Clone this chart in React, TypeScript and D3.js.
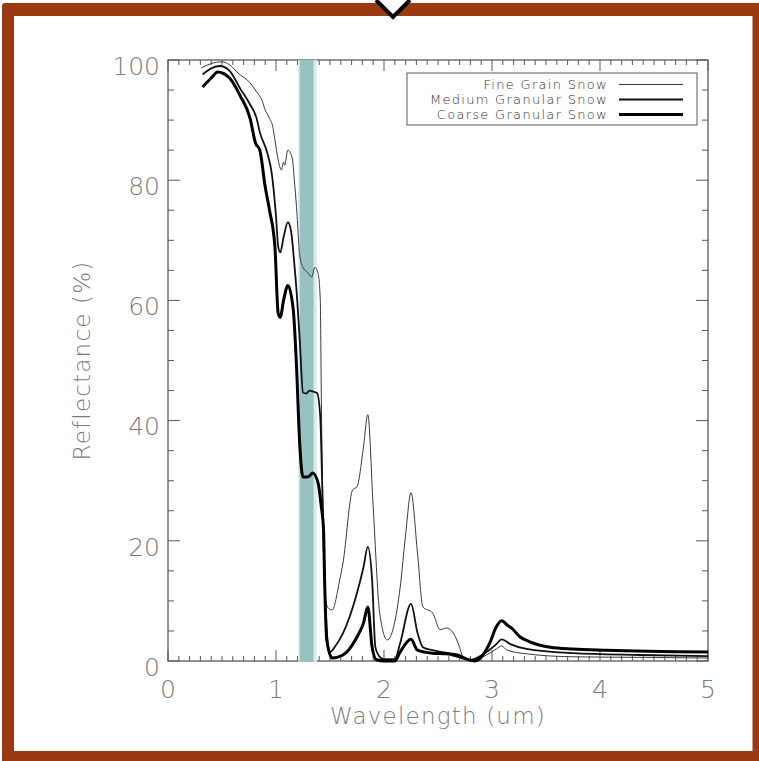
import * as d3 from "d3";

// Snow reflectance spectra (wavelength in um, reflectance in %)
const fineWl = [0.31, 0.4, 0.5, 0.57, 0.65, 0.76, 0.82, 0.87, 0.9, 0.94, 0.97, 0.99, 1.02, 1.05, 1.07, 1.08, 1.11, 1.15, 1.17, 1.19, 1.22, 1.25, 1.29, 1.33, 1.36, 1.39, 1.41, 1.42, 1.44, 1.46, 1.49, 1.52, 1.59, 1.62, 1.71, 1.75, 1.81, 1.85, 1.9, 1.96, 2.03, 2.15, 2.2, 2.25, 2.31, 2.36, 2.45, 2.52, 2.58, 2.64, 2.7, 2.73, 2.8, 2.95, 3.04, 3.09, 3.14, 3.32, 3.75, 4.4, 5.0];
const fineRefl = [98.7, 99.4, 99.7, 99.2, 97.8, 96.2, 94.7, 93.3, 91.7, 90.3, 88.9, 86.7, 83.4, 81.7, 83.0, 82.5, 85.0, 83.7, 80.0, 75.5, 67.5, 65.5, 64.7, 63.9, 65.5, 64.5, 60.0, 43.4, 21.3, 10.0, 8.7, 8.5, 13.5, 16.3, 28.5, 29.0, 35.6, 41.0, 25.6, 8.0, 3.5, 12.3, 21.0, 28.0, 18.0, 9.0, 8.0, 5.2, 5.5, 4.7, 2.3, 0.7, 0.1, 1.0, 2.0, 2.5, 1.8, 1.2, 0.7, 0.6, 0.5];

const mediumWl = [0.32, 0.4, 0.48, 0.57, 0.67, 0.76, 0.82, 0.85, 0.92, 0.96, 1.0, 1.02, 1.04, 1.07, 1.11, 1.14, 1.17, 1.19, 1.22, 1.25, 1.28, 1.31, 1.35, 1.38, 1.41, 1.42, 1.44, 1.47, 1.5, 1.55, 1.62, 1.75, 1.81, 1.85, 1.89, 1.92, 1.96, 2.0, 2.1, 2.15, 2.25, 2.31, 2.36, 2.45, 2.6, 2.7, 2.8, 2.95, 3.04, 3.09, 3.17, 3.32, 3.75, 4.37, 5.0];
const mediumRefl = [97.6, 98.6, 99.0, 98.2, 95.2, 92.6, 90.3, 88.0, 84.5, 81.2, 74.0, 69.0, 68.0, 70.5, 73.0, 71.5, 66.0, 61.7, 53.4, 44.7, 44.5, 45.0, 44.8, 44.6, 40.6, 35.0, 20.0, 5.0, 1.5, 2.5, 4.6, 11.3, 15.6, 19.0, 13.5, 2.3, 0.7, 0.3, 0.3, 3.0, 9.5, 4.7, 2.3, 1.8, 1.3, 1.0, 0.2, 1.5, 2.8, 3.6, 2.8, 2.0, 1.3, 1.0, 0.8];

const coarseWl = [0.32, 0.4, 0.46, 0.57, 0.67, 0.76, 0.81, 0.85, 0.9, 0.94, 0.99, 1.02, 1.04, 1.07, 1.11, 1.16, 1.19, 1.22, 1.25, 1.28, 1.31, 1.34, 1.39, 1.42, 1.44, 1.45, 1.47, 1.52, 1.62, 1.75, 1.81, 1.85, 1.89, 1.93, 2.0, 2.1, 2.15, 2.25, 2.31, 2.45, 2.58, 2.7, 2.84, 2.98, 3.04, 3.09, 3.14, 3.18, 3.26, 3.35, 3.54, 3.75, 4.06, 5.0];
const coarseRefl = [95.5, 97.0, 98.0, 97.0, 94.0, 90.3, 86.2, 85.0, 78.9, 75.0, 68.9, 57.9, 57.2, 60.0, 62.5, 58.4, 49.0, 36.0, 30.6, 30.6, 30.8, 31.3, 29.6, 25.6, 22.0, 13.5, 3.5, 0.5, 1.0, 4.0, 6.3, 9.0, 2.3, 0.2, 0.0, 0.0, 1.5, 3.6, 1.8, 1.3, 1.2, 0.7, 0.0, 3.0, 5.7, 6.7, 6.0, 5.5, 4.0, 3.2, 2.3, 2.0, 1.8, 1.5];

const seriesNames = ["Fine Grain Snow", "Medium Granular Snow", "Coarse Granular Snow"];
const xTickValues = [0, 1, 2, 3, 4, 5];
const yTickValues = [0, 20, 40, 60, 80, 100];
const band = [1.22, 1.35];

const W = 759;
const H = 761;
const brown = "#9b3a11";
const axisColor = "#5a5a5a";
const labelColor = "#7c7c7c";
const font = "'DejaVu Sans', sans-serif";

export default function App() {
  const x = d3.scaleLinear().domain([0, 5]).range([168, 708]);
  const y = d3.scaleLinear().domain([0, 100]).range([661, 60]);
  const [x0, x1] = x.range();
  const [y0, y1] = y.range();

  const series = [
    { name: seriesNames[0], wl: fineWl, refl: fineRefl, width: 1, color: "#3a3a3a" },
    { name: seriesNames[1], wl: mediumWl, refl: mediumRefl, width: 1.8, color: "#111" },
    { name: seriesNames[2], wl: coarseWl, refl: coarseRefl, width: 3, color: "#000" },
  ];

  const line = d3
    .line<[number, number]>()
    .x((d) => x(d[0]))
    .y((d) => y(d[1]))
    .curve(d3.curveMonotoneX);

  const xMinor = x.ticks(50);
  const yMinor = y.ticks(20);

  return (
    <div style={{ position: "fixed", left: 0, top: 0 }}>
      <svg width={W} height={H} style={{ display: "block", background: "#fff" }}>
        {/* brown frame */}
        <rect x={2} y={3} width={W + 4} height={H} rx={3} fill={brown} />
        <rect x={14} y={16} width={738.5} height={735} fill="#fff" />
        <polygon points="375,0 393,17 411,0" fill="#fff" />
        <polyline points="376,0 393,17 410,0" fill="none" stroke="#000" strokeWidth={4} />

        {/* axis box */}
        <rect x={x0} y={y1} width={x1 - x0} height={y0 - y1} fill="none" stroke={axisColor} strokeWidth={1.3} />

        {/* x ticks, bottom and top */}
        {xMinor.map((t) => {
          const major = Math.abs(t - Math.round(t)) < 1e-6;
          const len = major ? 11 : 5;
          return (
            <g key={"xt" + t} stroke={axisColor} strokeWidth={1}>
              <line x1={x(t)} x2={x(t)} y1={y0} y2={y0 - len} />
              <line x1={x(t)} x2={x(t)} y1={y1} y2={y1 + len} />
            </g>
          );
        })}
        {/* y ticks, left and right */}
        {yMinor.map((t) => {
          const major = t % 20 === 0;
          const len = major ? 12 : 6;
          return (
            <g key={"yt" + t} stroke={axisColor} strokeWidth={1}>
              <line x1={x0} x2={x0 + len} y1={y(t)} y2={y(t)} />
              <line x1={x1} x2={x1 - len} y1={y(t)} y2={y(t)} />
            </g>
          );
        })}

        {/* highlighted band */}
        <rect x={x(band[0]) - 1.5} y={y1} width={1.5} height={y0 - y1 + 1} fill="#d8e9e8" />
        <rect x={x(band[0])} y={y1} width={x(band[1]) - x(band[0])} height={y0 - y1 + 1} fill="#98c2c1" />
        <rect x={x(band[1])} y={y1} width={3} height={y0 - y1 + 1} fill="#dcecec" />

        {/* spectra */}
        {series.map((s) => (
          <path
            key={s.name}
            d={line(s.wl.map((w, i) => [w, s.refl[i]] as [number, number])) ?? ""}
            fill="none"
            stroke={s.color}
            strokeWidth={s.width}
            strokeLinejoin="round"
          />
        ))}

        {/* tick labels */}
        {xTickValues.map((t) => (
          <text
            key={"xl" + t}
            x={x(t)}
            y={y0 + 28}
            dy="0.35em"
            textAnchor="middle"
            fontFamily={font}
            fontWeight={200}
            fontSize={25}
            fill={labelColor}
          >
            {t}
          </text>
        ))}
        {yTickValues.map((t) => (
          <text
            key={"yl" + t}
            x={x0 - 8}
            y={y(t) + 6}
            dy="0.35em"
            textAnchor="end"
            fontFamily={font}
            fontWeight={200}
            fontSize={25}
            fill={labelColor}
          >
            {t}
          </text>
        ))}

        {/* axis titles */}
        <text
          x={(x0 + x1) / 2}
          y={716}
          dy="0.35em"
          textAnchor="middle"
          fontFamily={font}
          fontWeight={200}
          fontSize={23}
          letterSpacing={1.2}
          fill={labelColor}
        >
          Wavelength (um)
        </text>
        <text
          transform={`translate(82, ${(y0 + y1) / 2}) rotate(-90)`}
          dy="0.35em"
          textAnchor="middle"
          fontFamily={font}
          fontWeight={200}
          fontSize={23}
          letterSpacing={1.2}
          fill={labelColor}
        >
          Reflectance (%)
        </text>

        {/* legend */}
        <rect x={407} y={73} width={290} height={52} fill="#fff" stroke={axisColor} strokeWidth={1} />
        {series.map((s, i) => (
          <g key={"lg" + s.name}>
            <text
              x={608}
              y={84 + i * 15}
              dy="0.35em"
              textAnchor="end"
              fontFamily={font}
              fontWeight={300}
              fontSize={13}
              letterSpacing={1.3}
              fill="#333"
            >
              {s.name}
            </text>
            <line x1={619} x2={683} y1={84.5 + i * 15} y2={84.5 + i * 15} stroke={s.color} strokeWidth={s.width} />
          </g>
        ))}
      </svg>
    </div>
  );
}
